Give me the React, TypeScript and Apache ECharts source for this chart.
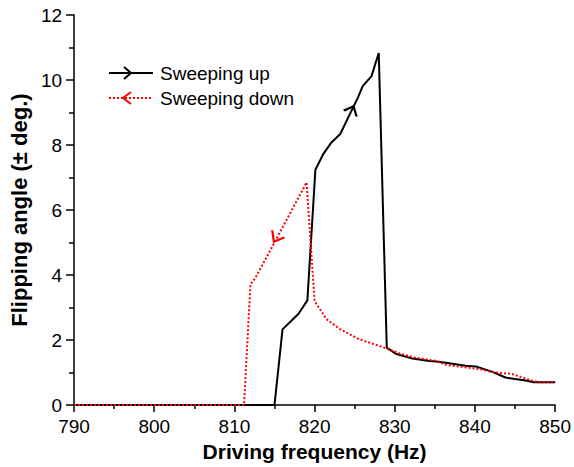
import React, { useEffect, useRef } from "react";
import * as echarts from "echarts";

const upFreq = [790, 815, 816, 818, 819.1, 820.1, 821.1, 822.1, 823.2, 824.2, 825.4, 826, 827.1, 828, 829, 830.2, 832.2, 834.3, 835.5, 836.8, 838.8, 840.1, 842.1, 843.8, 845, 846.5, 847.3, 850];
const upAngle = [0, 0, 2.33, 2.81, 3.22, 7.24, 7.73, 8.08, 8.34, 8.85, 9.46, 9.81, 10.12, 10.83, 1.77, 1.57, 1.43, 1.36, 1.33, 1.29, 1.21, 1.19, 1.03, 0.85, 0.8, 0.75, 0.7, 0.7];

const downFreq = [790, 811.2, 812, 812.6, 819, 820, 821.5, 823.2, 825.6, 828.1, 830.6, 832.5, 835.1, 836.4, 838.5, 840.5, 842.6, 844.6, 847.1, 848, 850];
const downAngle = [0, 0, 3.72, 3.9, 6.85, 3.2, 2.64, 2.33, 2.02, 1.82, 1.59, 1.46, 1.36, 1.24, 1.17, 1.11, 1.0, 0.96, 0.75, 0.7, 0.7];

const xTicks = [790, 800, 810, 820, 830, 840, 850];
const yTicks = [0, 2, 4, 6, 8, 10, 12];

const seriesNames = ["Sweeping up", "Sweeping down"];
const arrowUp = { freq: 824.65, angle: 9.08 };
const arrowDown = { freq: 815.2, angle: 5.15 };

const FONT = "'Liberation Sans', Arial, sans-serif";
const chevron = "path://M0,0 L10,5 L0,10";

export default function App() {
  const ref = useRef<HTMLDivElement>(null);
  useEffect(() => {
    if (!ref.current) return;
    const chart = echarts.init(ref.current, undefined, { renderer: "svg" });
    const up = upFreq.map((f, i) => [f, upAngle[i]]);
    const down = downFreq.map((f, i) => [f, downAngle[i]]);
    chart.setOption({
      animation: false,
      backgroundColor: "#fff",
      grid: { left: 72, right: 17, top: 15, bottom: 59 },
      xAxis: {
        type: "value",
        min: xTicks[0],
        max: xTicks[xTicks.length - 1],
        interval: 10,
        name: "Driving frequency (Hz)",
        nameLocation: "middle",
        nameGap: 31,
        nameTextStyle: { fontFamily: FONT, fontSize: 21, fontWeight: "bold", color: "#000" },
        axisLine: { lineStyle: { color: "#000", width: 1.5 } },
        axisTick: { length: 7, lineStyle: { color: "#000", width: 1.5 } },
        minorTick: { show: true, splitNumber: 2, length: 4, lineStyle: { color: "#000", width: 1.5 } },
        axisLabel: { fontFamily: FONT, fontSize: 19, color: "#000", margin: 12 },
        splitLine: { show: false },
      },
      yAxis: {
        type: "value",
        min: yTicks[0],
        max: yTicks[yTicks.length - 1],
        interval: 2,
        name: "Flipping angle (± deg.)",
        nameLocation: "middle",
        nameGap: 36,
        nameTextStyle: { fontFamily: FONT, fontSize: 22, fontWeight: "bold", color: "#000" },
        axisLine: { show: true, lineStyle: { color: "#000", width: 1.5 } },
        axisTick: { show: true, length: 8, lineStyle: { color: "#000", width: 1.5 } },
        minorTick: { show: true, splitNumber: 2, length: 5, lineStyle: { color: "#000", width: 1.5 } },
        axisLabel: { fontFamily: FONT, fontSize: 19, color: "#000", margin: 12 },
        splitLine: { show: false },
      },
      series: [
        {
          name: seriesNames[0],
          type: "line",
          data: up,
          symbol: "none",
          lineStyle: { color: "#000", width: 2 },
          markPoint: {
            symbol: chevron,
            symbolSize: [8, 14],
            symbolRotate: 65,
            itemStyle: { color: "rgba(0,0,0,0)", borderColor: "#000", borderWidth: 2 },
            label: { show: false },
            data: [{ coord: [arrowUp.freq, arrowUp.angle] }],
          },
          z: 2,
        },
        {
          name: seriesNames[1],
          type: "line",
          data: down,
          symbol: "none",
          lineStyle: { color: "#ff0000", width: 2, type: [2, 2] },
          markPoint: {
            symbol: chevron,
            symbolSize: [9, 14],
            symbolRotate: -120,
            itemStyle: { color: "rgba(0,0,0,0)", borderColor: "#ff0000", borderWidth: 2 },
            label: { show: false },
            data: [{ coord: [arrowDown.freq, arrowDown.angle] }],
          },
          z: 3,
        },
      ],
      graphic: [
        { type: "line", shape: { x1: 109, y1: 73, x2: 153, y2: 73 }, style: { stroke: "#000", lineWidth: 2 } },
        { type: "polyline", shape: { points: [[124, 67], [131, 73], [124, 79]] }, style: { stroke: "#000", lineWidth: 2, fill: null } },
        { type: "text", x: 160, y: 73, style: { text: seriesNames[0], font: `19px ${FONT}`, fill: "#000", verticalAlign: "middle" } },
        { type: "line", shape: { x1: 109, y1: 98, x2: 153, y2: 98 }, style: { stroke: "#ff0000", lineWidth: 2, lineDash: [2, 2] } },
        { type: "polyline", shape: { points: [[131, 92], [123, 98], [131, 104]] }, style: { stroke: "#ff0000", lineWidth: 2, fill: null } },
        { type: "text", x: 160, y: 98, style: { text: seriesNames[1], font: `19px ${FONT}`, fill: "#000", verticalAlign: "middle" } },
      ],
    });
    return () => chart.dispose();
  }, []);
  return <div ref={ref} style={{ position: "absolute", left: 0, top: 0, width: 574, height: 467 }} />;
}
